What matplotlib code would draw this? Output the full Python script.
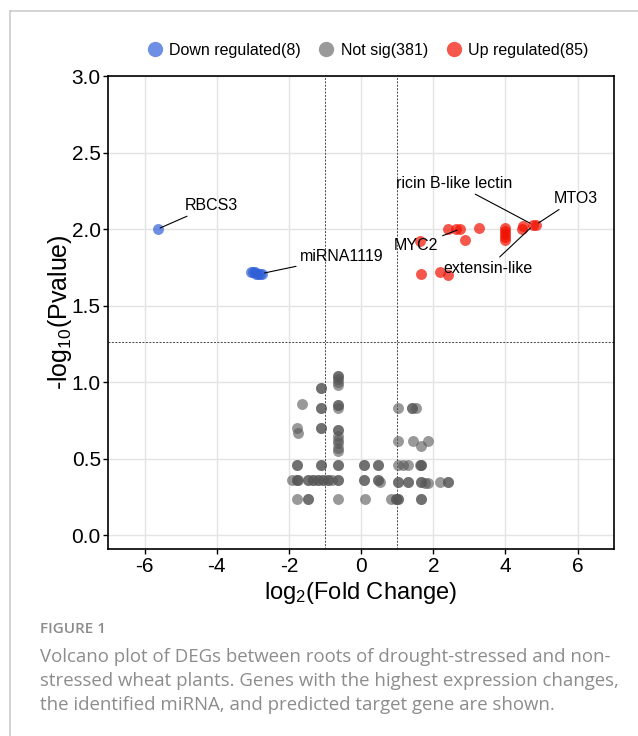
import matplotlib
matplotlib.use("Agg")
import matplotlib.pyplot as plt
from matplotlib.lines import Line2D

plt.rcParams['font.family'] = ['Liberation Sans', 'DejaVu Sans']
plt.rcParams['mathtext.default'] = 'regular'
plt.rcParams['axes.unicode_minus'] = False

# down regulated (RBCS3 + miRNA1119 cluster)
down_x = [-5.64, -3.05, -3.0, -2.95, -2.9, -2.85, -2.8, -2.75]
down_y = [2.0, 1.72, 1.72, 1.72, 1.71, 1.71, 1.71, 1.71]

# up regulated
up_x = [1.62, 2.41, 2.62, 2.73, 3.26, 2.89, 4.0, 4.0, 4.0, 4.0, 4.0,
        4.45, 4.48, 4.75, 4.85, 1.67, 2.18, 2.41]
up_y = [1.92, 2.0, 2.0, 2.0, 2.01, 1.93, 2.01, 1.99, 1.97, 1.95, 1.93,
        2.0, 2.02, 2.03, 2.03, 1.71, 1.72, 1.70]

# not significant (duplicates = overlapping genes)
ns_x = [-0.65, -0.65, -0.65, -0.65, -0.65, -0.65, -0.65, -0.65, -0.65, -0.65,
        -0.65, -0.65, -0.65, -0.65, -0.65, -0.65, -0.65, -0.65, -0.65, -0.65,
        -1.12, -1.12, -1.12, -1.12, -1.12, -1.12, -1.12, -1.12,
        -1.65, -1.79, -1.74, -1.79, -1.79, -1.79, -1.79, -1.79,
        -1.47, -1.47, -1.47, -1.47, -1.92, -1.75, -1.33, -1.33, -1.19, -1.19,
        -1.06, -1.06, -0.92, -0.92, -0.8,
        0.08, 0.08, 0.08, 0.08, 0.10,
        0.47, 0.47, 0.47, 0.47, 0.52,
        1.01, 1.42, 1.42, 1.52, 1.01, 1.44, 1.85, 1.65,
        1.01, 1.16, 1.30, 1.62, 1.67, 1.67,
        1.01, 1.01, 1.30, 1.30, 1.67, 1.67, 1.78, 1.85, 2.18, 2.41, 2.41,
        0.84, 0.96, 0.96, 1.01, 1.01, 1.67, 1.67]
ns_y = [1.04, 1.04, 1.02, 1.0, 0.98, 0.85, 0.85, 0.83, 0.69, 0.69,
        0.65, 0.62, 0.60, 0.57, 0.55, 0.46, 0.46, 0.36, 0.36, 0.24,
        0.96, 0.96, 0.83, 0.83, 0.70, 0.70, 0.46, 0.46,
        0.855, 0.70, 0.67, 0.46, 0.46, 0.36, 0.36, 0.24,
        0.36, 0.36, 0.24, 0.24, 0.36, 0.36, 0.36, 0.36, 0.36, 0.36,
        0.36, 0.36, 0.36, 0.36, 0.36,
        0.46, 0.46, 0.36, 0.36, 0.24,
        0.46, 0.46, 0.36, 0.36, 0.35,
        0.83, 0.83, 0.83, 0.83, 0.615, 0.615, 0.615, 0.585,
        0.46, 0.46, 0.46, 0.46, 0.46, 0.46,
        0.35, 0.35, 0.35, 0.35, 0.35, 0.35, 0.34, 0.34, 0.35, 0.35, 0.35,
        0.24, 0.24, 0.24, 0.24, 0.24, 0.24, 0.24]

labels = ['RBCS3', 'miRNA1119', 'MYC2', 'ricin B-like lectin', 'MTO3', 'extensin-like']
label_pt = [(-5.64, 2.0), (-2.75, 1.71), (2.73, 2.0), (4.75, 2.03), (4.85, 2.03), (4.75, 2.02)]
label_txt = [(-4.14, 2.155), (-0.53, 1.82), (1.53, 1.89), (2.59, 2.30), (5.95, 2.20), (3.51, 1.745)]

legend_names = ['Down regulated(8)', 'Not sig(381)', 'Up regulated(85)']

blue = '#3060D8'
grey = '#555555'
red = '#F21000'

fig = plt.figure(figsize=(6.38, 7.36), dpi=100)
ax = fig.add_axes([0.170, 0.254, 0.792, 0.6427])

ax.scatter(ns_x, ns_y, s=62, color=grey, alpha=0.6, linewidths=0, zorder=3)
ax.scatter(down_x, down_y, s=62, color=blue, alpha=0.7, linewidths=0, zorder=3)
ax.scatter(up_x, up_y, s=62, color=red, alpha=0.7, linewidths=0, zorder=3)

ax.axhline(1.26, color='#444444', lw=0.7, ls=(0, (2, 1.5)), zorder=2)
ax.axvline(-1, color='#444444', lw=0.7, ls=(0, (2, 1.5)), zorder=2)
ax.axvline(1, color='#444444', lw=0.7, ls=(0, (2, 1.5)), zorder=2)

for name, pt, tp in zip(labels, label_pt, label_txt):
    ax.annotate(name, xy=pt, xytext=tp, ha='center', va='center', fontsize=11.5,
                arrowprops=dict(arrowstyle='-', color='black', lw=0.8,
                                shrinkA=1, shrinkB=2), zorder=5)

ax.set_xlim(-7, 7)
ax.set_ylim(-0.09, 3.0)
ax.set_xticks([-6, -4, -2, 0, 2, 4, 6])
ax.set_yticks([0, 0.5, 1.0, 1.5, 2.0, 2.5, 3.0])
ax.set_yticklabels(['0.0', '0.5', '1.0', '1.5', '2.0', '2.5', '3.0'])
ax.grid(True, color='#e3e3e3', lw=1)
ax.set_axisbelow(True)
ax.tick_params(labelsize=15, length=3.5, width=1, pad=2, color='black')
for sp in ax.spines.values():
    sp.set_linewidth(1.2)

ax.set_xlabel('log$_2$(Fold Change)', fontsize=17, labelpad=3)
ax.set_ylabel('-log$_{10}$(Pvalue)', fontsize=18, labelpad=-2)

handles = [Line2D([], [], marker='o', ls='', markersize=11, markeredgewidth=0,
                  color=c, alpha=a) for c, a in [(blue, 0.7), (grey, 0.6), (red, 0.7)]]
fig.legend(handles, legend_names, loc='center', bbox_to_anchor=(0.576, 0.932), ncol=3,
           frameon=False, fontsize=11.5, handletextpad=0.4, columnspacing=1.1,
           handlelength=1.0)

# figure caption
fig.text(40 / 638, 1 - 629 / 736, 'FIGURE 1', fontsize=11, color='#8c8c8c',
         family=['Open Sans', 'DejaVu Sans'], weight='semibold', va='center')
caption = ['Volcano plot of DEGs between roots of drought-stressed and non-',
           'stressed wheat plants. Genes with the highest expression changes,',
           'the identified miRNA, and predicted target gene are shown.']
for i, line in enumerate(caption):
    fig.text(40 / 638, 1 - (657 + 24 * i) / 736, line, fontsize=13.4, color='#8c8c8c',
             family=['Open Sans', 'DejaVu Sans'], va='center')

# light frame around the figure panel
fig.add_artist(Line2D([9.5 / 638, 9.5 / 638], [0, 1 - 11 / 736], color='#cccccc', lw=1.2))
fig.add_artist(Line2D([9.5 / 638, 1], [1 - 11 / 736, 1 - 11 / 736], color='#cccccc', lw=1.2))

fig.savefig('out.png', dpi=100)
